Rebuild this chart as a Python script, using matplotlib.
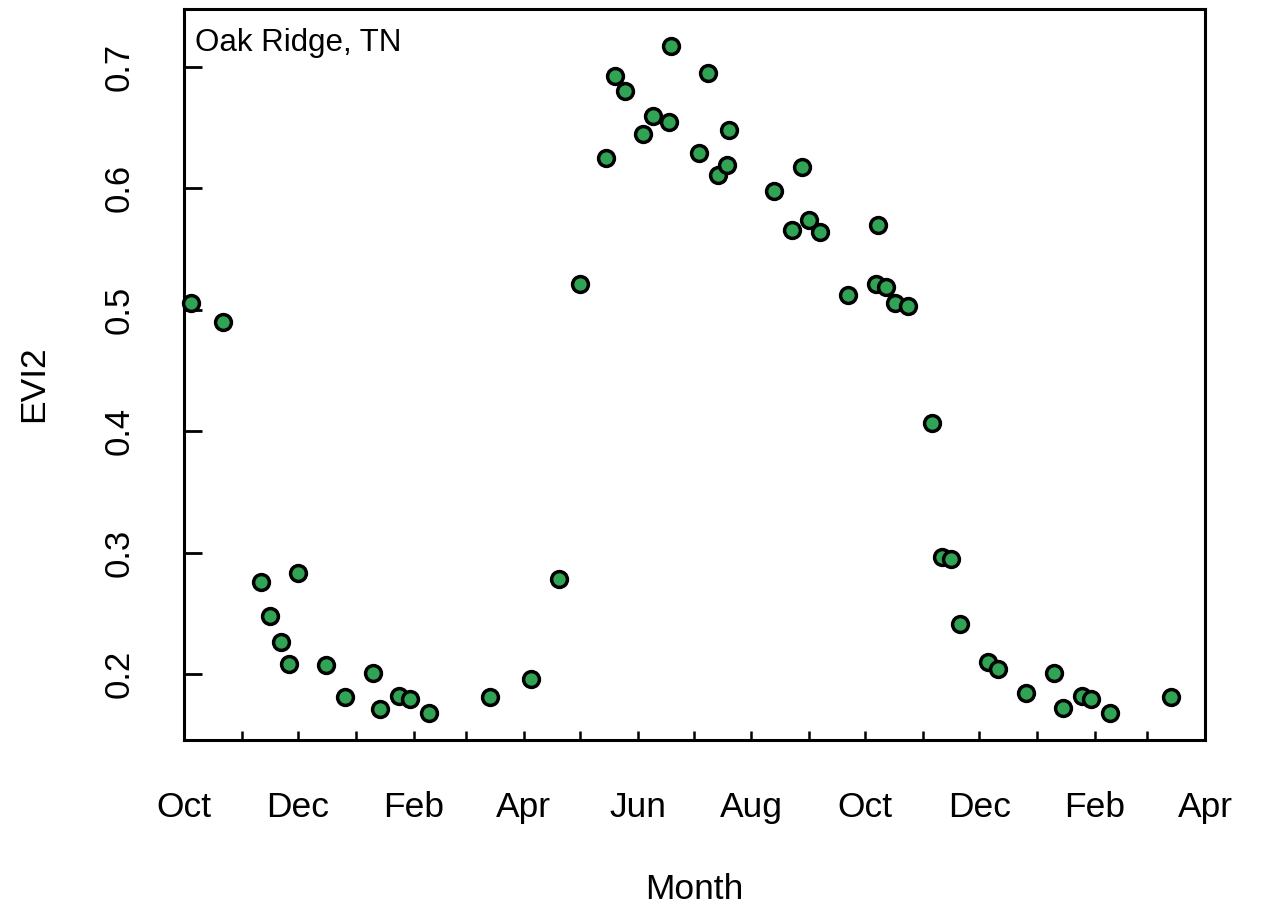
import pandas as pd
import matplotlib
matplotlib.use("Agg")
import matplotlib.pyplot as plt
import matplotlib.dates as mdates

# EVI2 time series, Oak Ridge, TN
dates = [
    "2012-10-05", "2012-10-22", "2012-11-11", "2012-11-16", "2012-11-22",
    "2012-11-26", "2012-12-01", "2012-12-16", "2012-12-26", "2013-01-10",
    "2013-01-14", "2013-01-24", "2013-01-30", "2013-02-09", "2013-03-14",
    "2013-04-05", "2013-04-20", "2013-05-01", "2013-05-15", "2013-05-20",
    "2013-05-25", "2013-06-04", "2013-06-09", "2013-06-18", "2013-06-19",
    "2013-07-04", "2013-07-09", "2013-07-14", "2013-07-19", "2013-07-20",
    "2013-08-13", "2013-08-23", "2013-08-28", "2013-09-01", "2013-09-07",
    "2013-09-22", "2013-10-07", "2013-10-08", "2013-10-12", "2013-10-17",
    "2013-10-24", "2013-11-06", "2013-11-11", "2013-11-16", "2013-11-21",
    "2013-12-06", "2013-12-11", "2013-12-26", "2014-01-10", "2014-01-15",
    "2014-01-25", "2014-01-30", "2014-02-09", "2014-03-14",
]
evi2 = [
    0.506, 0.490, 0.276, 0.248, 0.226,
    0.208, 0.283, 0.207, 0.181, 0.201,
    0.171, 0.182, 0.179, 0.168, 0.181,
    0.196, 0.278, 0.521, 0.625, 0.693,
    0.680, 0.645, 0.660, 0.655, 0.717,
    0.629, 0.695, 0.611, 0.619, 0.648,
    0.598, 0.566, 0.618, 0.574, 0.564,
    0.512, 0.521, 0.570, 0.519, 0.506,
    0.503, 0.407, 0.296, 0.295, 0.241,
    0.210, 0.204, 0.184, 0.201, 0.172,
    0.182, 0.179, 0.168, 0.181,
]
site = "Oak Ridge, TN"
y_ticks = [0.2, 0.3, 0.4, 0.5, 0.6, 0.7]

df = pd.DataFrame({"date": pd.to_datetime(dates), "evi2": evi2})

plt.rcParams["font.family"] = ["Liberation Sans", "DejaVu Sans"]

fig = plt.figure(figsize=(12.61, 9.08), dpi=100)
ax = fig.add_axes([184 / 1261, 168 / 908, 1021 / 1261, 731 / 908])

ax.plot(df["date"], df["evi2"], linestyle="none", marker="o",
        markersize=11.4, markerfacecolor="#31a354", markeredgecolor="black",
        markeredgewidth=2.5, clip_on=False, zorder=3)

ax.set_xlim(pd.Timestamp("2012-10-01"), pd.Timestamp("2014-04-01"))
ax.set_ylim(0.1456, 0.7478)

# labelled ticks every other month, plain ticks in between
ax.xaxis.set_major_locator(mdates.MonthLocator(bymonth=[2, 4, 6, 8, 10, 12]))
ax.xaxis.set_major_formatter(mdates.DateFormatter("%b"))
ax.xaxis.set_minor_locator(mdates.MonthLocator())
ax.set_yticks(y_ticks)
ax.set_yticklabels([f"{v:.1f}" for v in y_ticks], rotation=90, va="center")

ax.tick_params(axis="x", which="both", direction="in", length=6.7,
               width=1.8, pad=37, labelsize=25.5)
ax.tick_params(axis="y", direction="in", length=12.7, width=2.0,
               pad=35, labelsize=25)

for side in ax.spines.values():
    side.set_linewidth(2.2)

ax.set_xlabel("Month", fontsize=25.5, va="center")
ax.xaxis.set_label_coords(0.5, -0.205)
ax.set_ylabel("EVI2", fontsize=25.5, va="center")
ax.yaxis.set_label_coords(-0.147, 0.488)

ax.text(0.011, 0.974, site, transform=ax.transAxes, fontsize=22.5,
        ha="left", va="top")

fig.savefig("out.png", dpi=100)
